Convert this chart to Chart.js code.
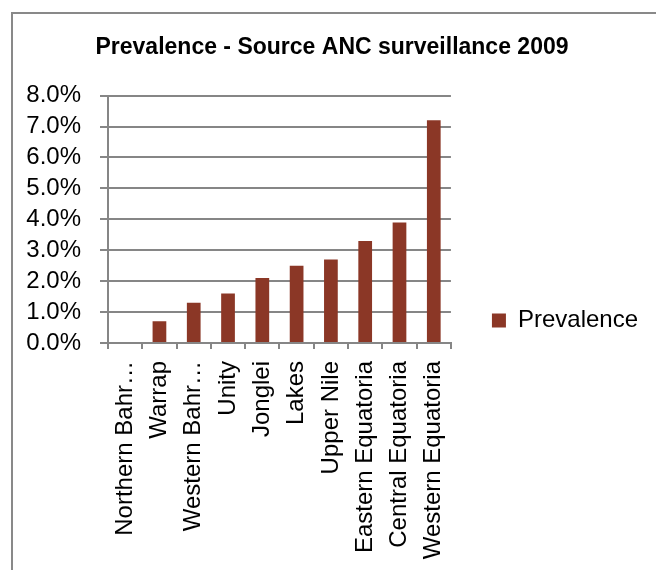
<!DOCTYPE html>
<html>
<head>
<meta charset="utf-8">
<script src="https://cdn.jsdelivr.net/npm/chart.js@4/dist/chart.umd.min.js"></script>
<style>
  html, body { margin: 0; padding: 0; background: #fff; }
  #wrap { position: relative; width: 656px; height: 570px; overflow: hidden; }
  #frame { position: absolute; left: 11px; top: 12px; width: 700px; height: 600px;
           border-left: 2px solid #898989; border-top: 2px solid #898989; }
  canvas { position: absolute; left: 0; top: 0; }
</style>
</head>
<body>
<div id="wrap">
  <div id="frame"></div>
  <canvas id="prevalence-chart" width="656" height="570"></canvas>
</div>
<script>
const regions = [
  "Northern Bahr\u2026",
  "Warrap",
  "Western Bahr\u2026",
  "Unity",
  "Jonglei",
  "Lakes",
  "Upper Nile",
  "Eastern Equatoria",
  "Central Equatoria",
  "Western Equatoria",
];
const prevalence = [0, 0.7, 1.3, 1.6, 2.1, 2.5, 2.7, 3.3, 3.9, 7.2];
const yTicks = [0, 1, 2, 3, 4, 5, 6, 7, 8];

const gridColor = "#868686";
const labelFont = { family: "'Liberation Sans', Arial, sans-serif", size: 24 };

const ctx = document.getElementById("prevalence-chart");

new Chart(ctx, {
  type: "bar",
  data: {
    labels: regions,
    datasets: [
      {
        label: "Prevalence",
        data: prevalence,
        backgroundColor: "#8b3726",
        borderWidth: 0,
        categoryPercentage: 1,
        barPercentage: 0.4,
      },
    ],
  },
  options: {
    responsive: false,
    animation: false,
    layout: { padding: { left: 16, right: 8, top: 0, bottom: 0 } },
    plugins: {
      title: {
        display: true,
        text: "Prevalence - Source ANC surveillance 2009",
        color: "#000",
        font: { family: "'Liberation Sans', Arial, sans-serif", size: 23, weight: "bold" },
        padding: { top: 34, bottom: 34 },
      },
      legend: {
        position: "right",
        maxWidth: 400,
        // empty title only pushes the single entry down to where it sits in the original
        title: { display: true, text: "", font: { size: 10 }, padding: { top: 59, bottom: 0 } },
        labels: {
          boxWidth: 14,
          boxHeight: 14,
          color: "#000",
          font: labelFont,
          padding: 41,
        },
      },
      tooltip: { enabled: false },
    },
    scales: {
      x: {
        grid: {
          drawOnChartArea: false,
          drawTicks: true,
          tickLength: 6,
          offset: true,
          color: gridColor,
          lineWidth: 2,
        },
        border: { color: gridColor, width: 2 },
        ticks: {
          color: "#000",
          font: labelFont,
          minRotation: 90,
          maxRotation: 90,
          autoSkip: false,
          padding: 12,
        },
        afterFit: (scale) => {
          scale.height = 227;
        },
      },
      y: {
        min: 0,
        max: 8,
        afterBuildTicks: (scale) => {
          scale.ticks = yTicks.map((v) => ({ value: v }));
        },
        grid: {
          color: gridColor,
          lineWidth: 2,
          drawTicks: true,
          tickLength: 8,
        },
        border: { color: gridColor, width: 2 },
        ticks: {
          color: "#000",
          font: labelFont,
          padding: 19,
          autoSkip: false,
          callback: (v) => v.toFixed(1) + "%",
        },
        afterFit: (scale) => {
          scale.width = 92;
        },
      },
    },
  },
});
</script>
</body>
</html>
